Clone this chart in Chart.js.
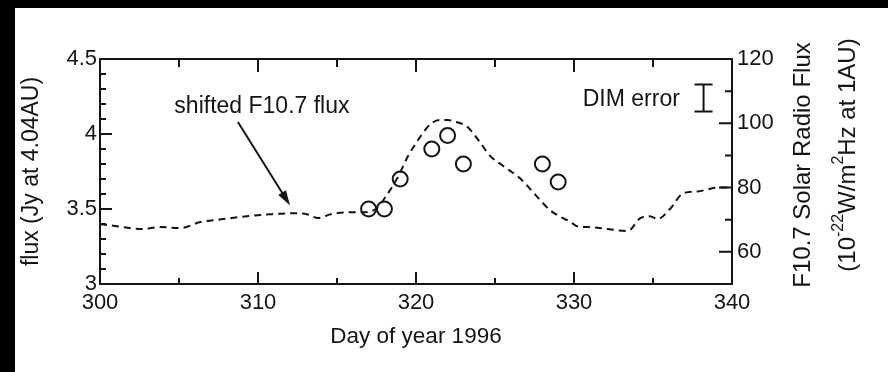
<!DOCTYPE html>
<html>
<head>
<meta charset="utf-8">
<script src="https://cdn.jsdelivr.net/npm/chart.js@4.4.1/dist/chart.umd.min.js"></script>
<style>
  html, body { margin: 0; padding: 0; background: #fff; }
  body { width: 888px; height: 372px; overflow: hidden; position: relative; }
  #barTop { position: absolute; left: 0; top: 0; width: 888px; height: 8px; background: #000; }
  #barLeft { position: absolute; left: 0; top: 0; width: 15px; height: 372px; background: #000; }
  #chart { position: absolute; left: 15px; top: 8px; }
</style>
</head>
<body>
<div id="barTop"></div>
<div id="barLeft"></div>
<canvas id="chart" width="873" height="364"></canvas>
<script>
// shifted F10.7 solar radio flux (right axis)
const fluxDays = [300, 300.6, 302.7, 303.8, 305.1, 306.3, 307.8, 309.3, 310.8, 312.2, 313.1, 313.8,
  314.6, 315.8, 316.5, 317.5, 318.0, 318.8, 319.5, 320.3, 320.9, 321.5, 322.0, 322.6, 323.2, 323.9,
  324.7, 325.5, 326.6, 327.6, 328.5, 329.7, 330.4, 331.0, 332.1, 333.4, 334.2, 334.8, 335.3, 336.1,
  336.9, 337.8, 339.2, 340];
const fluxF107 = [68.6, 68.3, 67.1, 67.7, 67.4, 69.2, 70.2, 71.1, 71.7, 72.0, 71.7, 70.5,
  71.7, 72.3, 72.3, 73.5, 76.6, 82.8, 89.8, 96.0, 99.7, 101.0, 101.0, 100.3, 99.1, 95.1,
  89.8, 86.8, 82.8, 77.5, 72.9, 69.5, 67.7, 67.7, 67.1, 66.5, 70.5, 71.1, 70.2, 73.5,
  78.2, 78.8, 80.0, 80.0];

// DIM flux measurements (left axis)
const dimDays = [317, 318, 319, 321, 322, 323, 328, 329];
const dimFlux = [3.50, 3.50, 3.70, 3.90, 3.99, 3.80, 3.80, 3.68];

const xTicks = [300, 310, 320, 330, 340];
const xMinor = [305, 315, 325, 335];
const leftTicks = [3, 3.5, 4, 4.5];
const leftMinor = [3.1, 3.2, 3.3, 3.4, 3.6, 3.7, 3.8, 3.9, 4.1, 4.2, 4.3, 4.4];
const rightTicks = [60, 80, 100, 120];
const rightMinor = [70, 90, 110];

const ink = '#141414';
const FONT = "'Liberation Sans', Arial, sans-serif";

const setTicks = list => scale => { scale.ticks = list.map(v => ({value: v})); };

// inward tick marks on all four sides + top frame line
const frameTicks = {
  id: 'frameTicks',
  afterDatasetsDraw(chart) {
    const {ctx, chartArea: a, scales} = chart;
    ctx.save();
    ctx.strokeStyle = ink;
    ctx.lineWidth = 2;
    ctx.beginPath();
    ctx.moveTo(a.left - 1, a.top);
    ctx.lineTo(a.right + 1, a.top);
    const tick = (x1, y1, x2, y2) => { ctx.moveTo(x1, y1); ctx.lineTo(x2, y2); };
    xTicks.forEach(v => {
      const px = scales.x.getPixelForValue(v);
      tick(px, a.bottom, px, a.bottom - 12);
      tick(px, a.top, px, a.top + 13);
    });
    xMinor.forEach(v => {
      const px = scales.x.getPixelForValue(v);
      tick(px, a.bottom, px, a.bottom - 6);
      tick(px, a.top, px, a.top + 8);
    });
    leftTicks.forEach(v => {
      const py = scales.y.getPixelForValue(v);
      tick(a.left, py, a.left + 12, py);
    });
    leftMinor.forEach(v => {
      const py = scales.y.getPixelForValue(v);
      tick(a.left, py, a.left + 6, py);
    });
    rightTicks.forEach(v => {
      const py = scales.y2.getPixelForValue(v);
      tick(a.right, py, a.right - 13, py);
    });
    rightMinor.forEach(v => {
      const py = scales.y2.getPixelForValue(v);
      tick(a.right, py, a.right - 7, py);
    });
    ctx.stroke();
    ctx.restore();
  }
};

// text annotations, arrow, error-bar key and the right-hand axis titles
const notes = {
  id: 'notes',
  afterDraw(chart) {
    const {ctx, scales: {x, y}} = chart;
    ctx.save();
    ctx.fillStyle = ink;
    ctx.strokeStyle = ink;
    ctx.font = `23px ${FONT}`;
    ctx.textBaseline = 'middle';

    ctx.textAlign = 'center';
    ctx.fillText('shifted F10.7 flux', x.getPixelForValue(310.25), y.getPixelForValue(4.18));

    // arrow
    const x1 = x.getPixelForValue(308.73), y1 = y.getPixelForValue(4.08);
    const x2 = x.getPixelForValue(312.03), y2 = y.getPixelForValue(3.524);
    const ang = Math.atan2(y2 - y1, x2 - x1);
    ctx.lineWidth = 2;
    ctx.beginPath();
    ctx.moveTo(x1, y1);
    ctx.lineTo(x2 - 10 * Math.cos(ang), y2 - 10 * Math.sin(ang));
    ctx.stroke();
    ctx.beginPath();
    ctx.moveTo(x2, y2);
    ctx.lineTo(x2 - 15 * Math.cos(ang) + 4.5 * Math.sin(ang), y2 - 15 * Math.sin(ang) - 4.5 * Math.cos(ang));
    ctx.lineTo(x2 - 15 * Math.cos(ang) - 4.5 * Math.sin(ang), y2 - 15 * Math.sin(ang) + 4.5 * Math.cos(ang));
    ctx.closePath();
    ctx.fill();

    // DIM error key
    ctx.textAlign = 'right';
    ctx.fillText('DIM error', x.getPixelForValue(336.7), y.getPixelForValue(4.23));
    const ex = x.getPixelForValue(338.2), et = y.getPixelForValue(4.33), eb = y.getPixelForValue(4.15);
    ctx.beginPath();
    ctx.moveTo(ex, et); ctx.lineTo(ex, eb);
    ctx.moveTo(ex - 9, et); ctx.lineTo(ex + 9, et);
    ctx.moveTo(ex - 9, eb); ctx.lineTo(ex + 9, eb);
    ctx.stroke();

    // right axis titles, reading bottom to top
    ctx.save();
    ctx.translate(788, 157);
    ctx.rotate(-Math.PI / 2);
    ctx.textAlign = 'center';
    ctx.font = `24px ${FONT}`;
    ctx.fillText('F10.7 Solar Radio Flux', 0, 0);
    ctx.restore();

    const parts = [
      ['(10', false], ['-22', true], ['W/m', false], ['2', true], ['Hz at 1AU)', false]
    ];
    const big = `24px ${FONT}`, small = `16px ${FONT}`;
    let total = 0;
    parts.forEach(([t, sup]) => { ctx.font = sup ? small : big; total += ctx.measureText(t).width; });
    ctx.save();
    ctx.translate(833, 147);
    ctx.rotate(-Math.PI / 2);
    ctx.textAlign = 'left';
    let cx = -total / 2;
    parts.forEach(([t, sup]) => {
      ctx.font = sup ? small : big;
      ctx.fillText(t, cx, sup ? -9 : 0);
      cx += ctx.measureText(t).width;
    });
    ctx.restore();
    ctx.restore();
  }
};

new Chart(document.getElementById('chart'), {
  type: 'line',
  data: {
    datasets: [
      {
        label: 'DIM',
        type: 'scatter',
        yAxisID: 'y',
        data: dimDays.map((d, i) => ({x: d, y: dimFlux[i]})),
        pointStyle: 'circle',
        pointRadius: 7.5,
        borderWidth: 2,
        borderColor: ink,
        backgroundColor: 'rgba(0,0,0,0)',
        showLine: false
      },
      {
        label: 'shifted F10.7 flux',
        yAxisID: 'y2',
        data: fluxDays.map((d, i) => ({x: d, y: fluxF107[i]})),
        borderColor: ink,
        borderWidth: 2,
        borderDash: [7, 5],
        pointRadius: 0,
        cubicInterpolationMode: 'monotone',
        fill: false
      }
    ]
  },
  options: {
    responsive: false,
    animation: false,
    devicePixelRatio: 1,
    layout: {padding: {top: 51, left: 0, right: 0, bottom: 0}},
    plugins: {legend: {display: false}, tooltip: {enabled: false}},
    scales: {
      x: {
        type: 'linear',
        position: 'bottom',
        min: 300, max: 340,
        afterBuildTicks: setTicks(xTicks),
        grid: {display: false, drawTicks: false},
        border: {display: true, width: 2, color: ink},
        ticks: {color: ink, font: {family: FONT, size: 22}, padding: 6, maxRotation: 0},
        title: {display: true, text: 'Day of year 1996', color: ink,
          font: {family: FONT, size: 22.5}, padding: {top: 4, bottom: 22}},
        afterFit: s => { s.height = 88; }
      },
      y: {
        type: 'linear',
        position: 'left',
        min: 3, max: 4.5,
        afterBuildTicks: setTicks(leftTicks),
        grid: {display: false, drawTicks: false},
        border: {display: true, width: 2, color: ink},
        ticks: {color: ink, font: {family: FONT, size: 22}, padding: 3, callback: v => String(v)},
        title: {display: true, text: 'flux (Jy at 4.04AU)', color: ink,
          font: {family: FONT, size: 23}, padding: {top: 3, bottom: 0}},
        afterFit: s => { s.width = 85; }
      },
      y2: {
        type: 'linear',
        position: 'right',
        min: 50, max: 120,
        afterBuildTicks: setTicks(rightTicks),
        grid: {display: false, drawTicks: false},
        border: {display: true, width: 2, color: ink},
        ticks: {color: ink, font: {family: FONT, size: 22}, padding: 5},
        afterFit: s => { s.width = 156; }
      }
    }
  },
  plugins: [frameTicks, notes]
});
</script>
</body>
</html>
